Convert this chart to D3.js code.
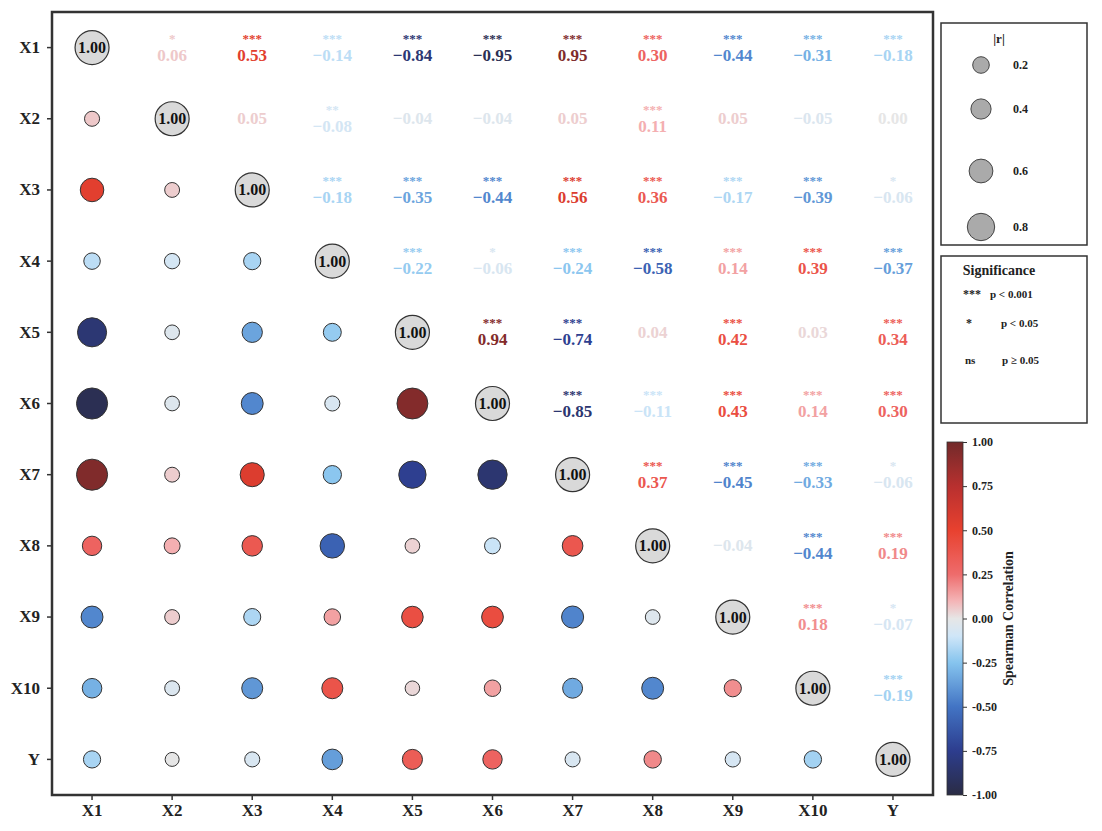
<!DOCTYPE html>
<html>
<head>
<meta charset="utf-8">
<script src="https://cdn.jsdelivr.net/npm/d3@7"></script>
<style>
  body { margin: 0; background: #fff; }
  text { font-family: "Liberation Serif", "Times New Roman", serif; font-weight: bold; }
</style>
</head>
<body>
<svg id="chart" width="1102" height="831"></svg>
<script>
// variables
var vars = ['X1', 'X2', 'X3', 'X4', 'X5', 'X6', 'X7', 'X8', 'X9', 'X10', 'Y'];

// spearman matrix (symmetric)
var corr = [
    [ 1.00,  0.06,  0.53, -0.14, -0.84, -0.95,  0.95,  0.30, -0.44, -0.31, -0.18],
    [ 0.06,  1.00,  0.05, -0.08, -0.04, -0.04,  0.05,  0.11,  0.05, -0.05,  0.00],
    [ 0.53,  0.05,  1.00, -0.18, -0.35, -0.44,  0.56,  0.36, -0.17, -0.39, -0.06],
    [-0.14, -0.08, -0.18,  1.00, -0.22, -0.06, -0.24, -0.58,  0.14,  0.39, -0.37],
    [-0.84, -0.04, -0.35, -0.22,  1.00,  0.94, -0.74,  0.04,  0.42,  0.03,  0.34],
    [-0.95, -0.04, -0.44, -0.06,  0.94,  1.00, -0.85, -0.11,  0.43,  0.14,  0.30],
    [ 0.95,  0.05,  0.56, -0.24, -0.74, -0.85,  1.00,  0.37, -0.45, -0.33, -0.06],
    [ 0.30,  0.11,  0.36, -0.58,  0.04, -0.11,  0.37,  1.00, -0.04, -0.44,  0.19],
    [-0.44,  0.05, -0.17,  0.14,  0.42,  0.43, -0.45, -0.04,  1.00,  0.18, -0.07],
    [-0.31, -0.05, -0.39,  0.39,  0.03,  0.14, -0.33, -0.44,  0.18,  1.00, -0.19],
    [-0.18,  0.00, -0.06, -0.37,  0.34,  0.30, -0.06,  0.19, -0.07, -0.19,  1.00]
];

// stars for upper triangle, row i starts at column i+1
var sigUpper = [
    ['*', '***', '***', '***', '***', '***', '***', '***', '***', '***'],
    ['', '**', '', '', '', '***', '', '', ''],
    ['***', '***', '***', '***', '***', '***', '***', '*'],
    ['***', '*', '***', '***', '***', '***', '***'],
    ['***', '***', '', '***', '', '***'],
    ['***', '***', '***', '***', '***'],
    ['***', '***', '***', '*'],
    ['', '***', '***'],
    ['***', '*'],
    ['***'],
    []
];

var colorDomain = [-1, -0.75, -0.5, -0.25, -0.1, 0, 0.1, 0.25, 0.5, 0.75, 1];
var colorRange  = ['#2a2c44', '#2d3d8e', '#4274c4', '#86c4ee', '#cfe6f8', '#e6e6e6', '#f4b4b6', '#ee6c6c', '#e8412f', '#b8302f', '#722a2a'];
var cbTicks     = [1, 0.75, 0.5, 0.25, 0, -0.25, -0.5, -0.75, -1];
var sizeLegend  = [0.2, 0.4, 0.6, 0.8];
var sigLegend   = [['***', 'p < 0.001'], ['*', 'p < 0.05'], ['ns', 'p \u2265 0.05']];

var svg = d3.select('#chart');
var plot = { x0: 52, x1: 933, y0: 12, y1: 795 };

var x = d3.scaleBand().domain(vars).range([plot.x0, plot.x1]);
var y = d3.scaleBand().domain(vars).range([plot.y0, plot.y1]);
var color = d3.scaleLinear().domain(colorDomain).range(colorRange).interpolate(d3.interpolateRgb);
var rad = d3.scaleLinear().domain([0, 1]).range([7, 16]);
var fmt = d3.format('.2f');

var cells = [];
for (var i = 0; i < vars.length; ++i) {
    for (var j = 0; j < vars.length; ++j) {
        cells.push({ i: i, j: j, r: corr[i][j], sig: j > i ? sigUpper[i][j - i - 1] : '' });
    }
}

var g = svg.append('g');

// lower triangle: circles
g.selectAll('circle.low')
    .data(cells.filter(function(d) { return d.i > d.j; }))
    .enter().append('circle')
    .attr('class', 'low')
    .attr('cx', function(d) { return x(vars[d.j]) + x.bandwidth() / 2; })
    .attr('cy', function(d) { return y(vars[d.i]) + y.bandwidth() / 2; })
    .attr('r', function(d) { return rad(Math.abs(d.r)); })
    .attr('fill', function(d) { return color(d.r); })
    .attr('stroke', '#333')
    .attr('stroke-width', 1);

// diagonal
var diag = g.selectAll('g.diag')
    .data(cells.filter(function(d) { return d.i == d.j; }))
    .enter().append('g')
    .attr('transform', function(d) {
        return 'translate(' + (x(vars[d.j]) + x.bandwidth() / 2) + ',' + (y(vars[d.i]) + y.bandwidth() / 2) + ')';
    });
diag.append('circle')
    .attr('r', 17)
    .attr('fill', '#d9d9d9')
    .attr('stroke', '#333')
    .attr('stroke-width', 1.2);
diag.append('text')
    .attr('text-anchor', 'middle')
    .attr('y', 5.5)
    .style('font-size', '16px')
    .attr('fill', '#111')
    .text(function(d) { return fmt(d.r); });

// upper triangle: numbers + stars
var up = g.selectAll('g.up')
    .data(cells.filter(function(d) { return d.j > d.i; }))
    .enter().append('g')
    .attr('transform', function(d) {
        return 'translate(' + (x(vars[d.j]) + x.bandwidth() / 2) + ',' + (y(vars[d.i]) + y.bandwidth() / 2) + ')';
    });
up.append('text')
    .attr('text-anchor', 'middle')
    .attr('y', function(d) { return d.sig ? 13 : 5.5; })
    .style('font-size', '17px')
    .attr('fill', function(d) { return color(d.r); })
    .text(function(d) { return fmt(d.r); });
up.filter(function(d) { return d.sig; }).append('text')
    .attr('text-anchor', 'middle')
    .attr('y', -5)
    .style('font-size', '13px')
    .attr('fill', function(d) { return color(d.r); })
    .text(function(d) { return d.sig; });

// frame
svg.append('rect')
    .attr('x', plot.x0).attr('y', plot.y0)
    .attr('width', plot.x1 - plot.x0).attr('height', plot.y1 - plot.y0)
    .attr('fill', 'none').attr('stroke', '#333').attr('stroke-width', 2.5);

// axes
var yAxis = svg.append('g')
    .attr('transform', 'translate(' + plot.x0 + ',0)')
    .call(d3.axisLeft(y).tickSize(5).tickPadding(7));
var xAxis = svg.append('g')
    .attr('transform', 'translate(0,' + plot.y1 + ')')
    .call(d3.axisBottom(x).tickSize(5).tickPadding(4));
[xAxis, yAxis].forEach(function(a) {
    a.select('.domain').remove();
    a.selectAll('.tick line').attr('stroke', '#333').attr('stroke-width', 1.5);
    a.selectAll('.tick text')
        .attr('fill', '#222')
        .style('font-size', '17px')
        .style('font-family', '"Liberation Serif", "Times New Roman", serif')
        .style('font-weight', 'bold');
});

// size legend
var lg1 = svg.append('g');
lg1.append('rect')
    .attr('x', 941).attr('y', 23).attr('width', 146).attr('height', 222)
    .attr('fill', '#fff').attr('stroke', '#333').attr('stroke-width', 1.5);
lg1.append('text')
    .attr('x', 999).attr('y', 43)
    .attr('text-anchor', 'middle')
    .style('font-size', '13px')
    .attr('fill', '#222')
    .text('|r|');
var legYpos = [65, 109, 171, 227];
var li = lg1.selectAll('g.item')
    .data(sizeLegend)
    .enter().append('g')
    .attr('transform', function(d, k) { return 'translate(0,' + legYpos[k] + ')'; });
li.append('circle')
    .attr('cx', 981)
    .attr('r', function(d) { return rad(d) - 0.5; })
    .attr('fill', '#aaa')
    .attr('stroke', '#444')
    .attr('stroke-width', 1);
li.append('text')
    .attr('x', 1013).attr('y', 4)
    .style('font-size', '12px')
    .attr('fill', '#222')
    .text(function(d) { return d; });

// significance legend
var lg2 = svg.append('g');
lg2.append('rect')
    .attr('x', 941).attr('y', 256).attr('width', 146).attr('height', 167)
    .attr('fill', '#fff').attr('stroke', '#333').attr('stroke-width', 1.5);
lg2.append('text')
    .attr('x', 999).attr('y', 275)
    .attr('text-anchor', 'middle')
    .style('font-size', '14px')
    .attr('fill', '#222')
    .text('Significance');
var sigY = [298, 327, 364];
var sigX = [[963, 990], [966, 1001], [965, 1002]];
sigLegend.forEach(function(s, k) {
    lg2.append('text')
        .attr('x', sigX[k][0]).attr('y', sigY[k])
        .style('font-size', s[0] == 'ns' ? '11px' : '12px')
        .attr('fill', '#222')
        .text(s[0]);
    lg2.append('text')
        .attr('x', sigX[k][1]).attr('y', sigY[k])
        .style('font-size', '11px')
        .attr('fill', '#222')
        .text(s[1]);
});

// colorbar
var cb = { x: 947, w: 16, y0: 442, y1: 795 };
var cbScale = d3.scaleLinear().domain([-1, 1]).range([cb.y1, cb.y0]);
var grad = svg.append('defs').append('linearGradient')
    .attr('id', 'cbgrad')
    .attr('x1', '0').attr('y1', '1').attr('x2', '0').attr('y2', '0');
grad.selectAll('stop')
    .data(d3.range(0, 1.0001, 0.025))
    .enter().append('stop')
    .attr('offset', function(d) { return d; })
    .attr('stop-color', function(d) { return color(d * 2 - 1); });
svg.append('rect')
    .attr('x', cb.x).attr('y', cb.y0)
    .attr('width', cb.w).attr('height', cb.y1 - cb.y0)
    .attr('fill', 'url(#cbgrad)')
    .attr('stroke', '#333').attr('stroke-width', 0.8);
var cbAxis = svg.append('g')
    .attr('transform', 'translate(' + (cb.x + cb.w) + ',0)')
    .call(d3.axisRight(cbScale).tickValues(cbTicks).tickSize(4).tickPadding(5)
        .tickFormat(function(d) { return d3.format('.2f')(d).replace('\u2212', '-'); }));
cbAxis.select('.domain').remove();
cbAxis.selectAll('.tick line').attr('stroke', '#333');
cbAxis.selectAll('.tick text')
    .attr('fill', '#222')
    .style('font-size', '12px')
    .style('font-family', '"Liberation Serif", "Times New Roman", serif')
    .style('font-weight', 'bold');
svg.append('text')
    .attr('transform', 'translate(1013,' + cbScale(0) + ') rotate(-90)')
    .attr('text-anchor', 'middle')
    .style('font-size', '14px')
    .attr('fill', '#222')
    .text('Spearman Correlation');
</script>
</body>
</html>
